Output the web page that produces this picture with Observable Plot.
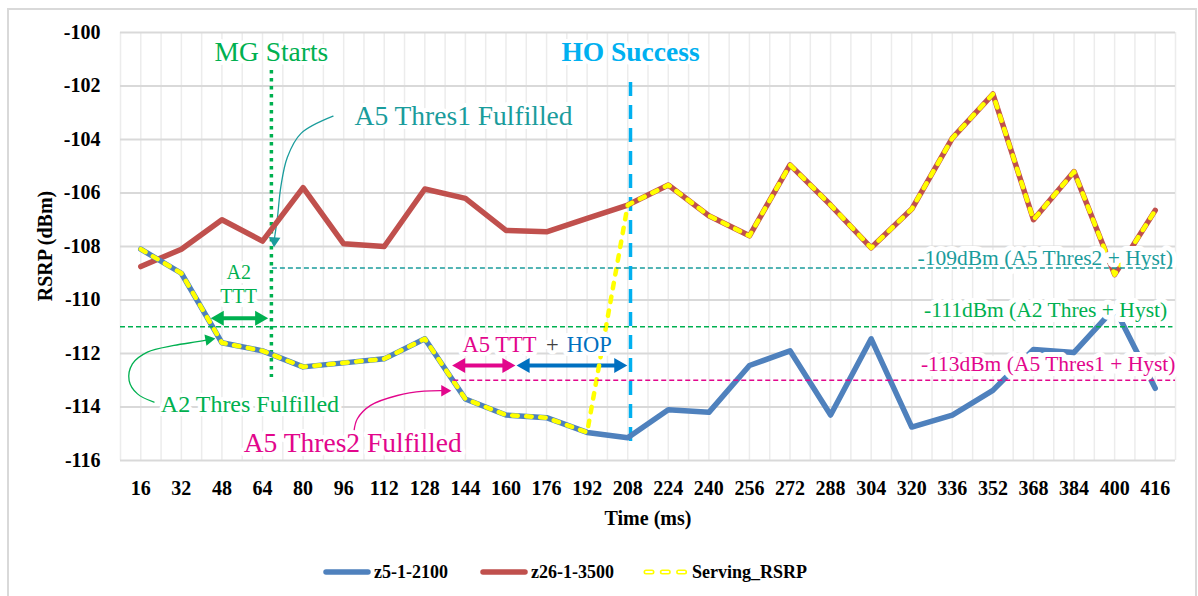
<!DOCTYPE html>
<html><head><meta charset="utf-8">
<script src="https://cdn.jsdelivr.net/npm/d3@7"></script>
<script src="https://cdn.jsdelivr.net/npm/@observablehq/plot@0.6"></script>
<style>
html,body{margin:0;padding:0;background:#fff;}
#wrap{position:relative;width:1198px;height:596px;overflow:hidden;font-family:"Liberation Serif","Times New Roman",serif;}
#frame{position:absolute;left:7px;top:8px;width:1190px;height:620px;box-sizing:border-box;border:2px solid #d9d9d9;}
#chart{position:absolute;left:0;top:0;}
#ytitle{position:absolute;left:45px;top:246px;transform:translate(-50%,-50%) rotate(-90deg);white-space:nowrap;font-weight:bold;font-size:20px;line-height:20px;color:#000;}
#legend{position:absolute;left:0;top:559px;width:1198px;height:26px;}
.item{position:absolute;top:0;height:26px;display:flex;align-items:center;font-weight:bold;font-size:18px;color:#000;}
.item svg{display:block;margin-right:3px;}
</style></head>
<body><div id="wrap"><div id="frame"></div><div id="chart"></div><div id="ytitle"></div><div id="legend"></div></div>
<script>
// ---------- data ----------
const times = [16,32,48,64,80,96,112,128,144,160,176,192,208,224,240,256,272,288,304,320,336,352,368,384,400,416];
const z5_1_2100 = [-108.1,-109.0,-111.6,-111.9,-112.5,-112.35,-112.2,-111.45,-113.7,-114.3,-114.4,-114.95,-115.15,-114.1,-114.2,-112.45,-111.9,-114.3,-111.45,-114.75,-114.3,-113.38,-111.85,-111.96,-110.3,-113.3];
const z26_1_3500 = [-108.75,-108.1,-107.0,-107.8,-105.8,-107.9,-108.0,-105.85,-106.2,-107.4,-107.45,-106.95,-106.45,-105.7,-106.85,-107.6,-104.95,-106.45,-108.05,-106.6,-103.95,-102.3,-107.0,-105.2,-109.05,-106.65];
const servingRSRP = [-108.1,-109.0,-111.6,-111.9,-112.5,-112.35,-112.2,-111.45,-113.7,-114.3,-114.4,-114.95,-106.45,-105.7,-106.85,-107.6,-104.95,-106.45,-108.05,-106.6,-103.95,-102.3,-107.0,-105.2,-109.05,-106.65];
const yTicks = [-116,-114,-112,-110,-108,-106,-104,-102,-100];
const xGrid = [8,16,24,32,40,48,56,64,72,80,88,96,104,112,120,128,136,144,152,160,168,176,184,192,200,208,216,224,232,240,248,256,264,272,280,288,296,304,312,320,328,336,344,352,360,368,376,384,392,400,408,416,424];
const seriesNames = ["z5-1-2100","z26-1-3500","Serving_RSRP"];
const yTitleText = "RSRP (dBm)";
const xTitle = [{text:"Time (ms)", t:216, v:-116}];

// annotations (time ms, dBm)
const annoTexts = [
  {key:"green", t:67.5, v:-101.08, text:"MG Starts", size:27.5, weight:"normal", anchor:"middle"},
  {key:"sky", t:209.1, v:-101.08, text:"HO Success", size:27.5, weight:"bold", anchor:"middle"},
  {key:"teal", t:100.3, v:-103.44, text:"A5 Thres1 Fulfilled", size:27.5, weight:"normal", anchor:"start"},
  {key:"green", t:54.6, v:-109.2, text:"A2", size:20, weight:"normal", anchor:"middle"},
  {key:"green", t:54.6, v:-110.13, text:"TTT", size:20, weight:"normal", anchor:"middle"},
  {key:"green", t:23.9, v:-114.19, text:"A2 Thres Fulfilled", size:24, weight:"normal", anchor:"start"},
  {key:"magenta", t:56.6, v:-115.69, text:"A5 Thres2 Fulfilled", size:27.5, weight:"normal", anchor:"start"},
  {key:"magenta", t:142.9, v:-111.93, text:"A5 TTT", size:22.5, weight:"normal", anchor:"start"},
  {key:"grey", t:178.3, v:-111.93, text:"+", size:22.5, weight:"normal", anchor:"middle"},
  {key:"hop", t:184.0, v:-111.93, text:"HOP", size:22.5, weight:"normal", anchor:"start"}
];
const thresholdLines = [
  {key:"teal", v:-108.8, t1:67.9, t2:423},
  {key:"green", v:-111, t1:8, t2:423},
  {key:"magenta", v:-113, t1:139.4, t2:424}
];
const thresholdLabels = [
  {key:"teal", t:423, v:-108.7, text:"-109dBm (A5 Thres2 + Hyst)"},
  {key:"green", t:420.7, v:-110.64, text:"-111dBm (A2 Thres + Hyst)"},
  {key:"magenta", t:424, v:-112.64, text:"-113dBm (A5 Thres1 + Hyst)"}
];
const mgStart = [{t:67.5, top:-101.42, bottom:-112.9}];
const hoSuccess = [{t:209.1, top:-101.87, bottom:-115.42}];
const curvedArrows = [
  {arrow:"a5t1", key:"teal", t:91.8, v:-103.13},{arrow:"a5t1", key:"teal", t:79.1, v:-103.78},
  {arrow:"a5t1", key:"teal", t:73.8, v:-104.66},{arrow:"a5t1", key:"teal", t:71.2, v:-105.78},
  {arrow:"a5t1", key:"teal", t:69.9, v:-106.9},{arrow:"a5t1", key:"teal", t:68.7, v:-107.7},
  {arrow:"a2", key:"green", t:21.2, v:-113.82},{arrow:"a2", key:"green", t:14.7, v:-113.51},
  {arrow:"a2", key:"green", t:11.4, v:-113.01},{arrow:"a2", key:"green", t:12.7, v:-112.39},
  {arrow:"a2", key:"green", t:18.6, v:-111.95},{arrow:"a2", key:"green", t:29.1, v:-111.7},
  {arrow:"a2", key:"green", t:38.3, v:-111.56},{arrow:"a2", key:"green", t:42.8, v:-111.48},
  {arrow:"a5t2", key:"magenta", t:100.1, v:-114.88},{arrow:"a5t2", key:"magenta", t:101.4, v:-114.44},
  {arrow:"a5t2", key:"magenta", t:106.6, v:-113.94},{arrow:"a5t2", key:"magenta", t:117.2, v:-113.57},
  {arrow:"a5t2", key:"magenta", t:127.7, v:-113.41},{arrow:"a5t2", key:"magenta", t:135.8, v:-113.39}
];
const curvedHeads = [
  {key:"teal", t:68.7, v:-107.78, rot:184},
  {key:"green", t:42.8, v:-111.48, rot:80},
  {key:"magenta", t:135.8, v:-113.39, rot:90}
];
const doubleArrows = [
  {key:"green", t1:43.6, t2:66.2, v:-110.68},
  {key:"magenta", t1:138.8, t2:163.7, v:-112.45},
  {key:"hop", t1:164.2, t2:207.8, v:-112.45}
];

// ---------- styles ----------
const C = {green:"#00b050", teal:"#1a9c9c", magenta:"#e2068c", sky:"#00b0f0", hop:"#0070c0", grey:"#404040",
           red:"#c0504d", blue:"#4f81bd", yellow:"#ffff00"};
const FONT = "Liberation Serif, Times New Roman, serif";
const headOff = 3.4; // ms from tip to triangle centre

const row = (vals) => times.map((t, i) => ({t, v: vals[i]}));
const blueData = row(z5_1_2100), redData = row(z26_1_3500), servData = row(servingRSRP);

const marks = [
  Plot.ruleX(xGrid, {stroke:"#ececec", strokeWidth:1.5}),
  Plot.ruleY(yTicks, {stroke:"#d9d9d9", strokeWidth:1.8}),
  Plot.ruleX(mgStart, {x:"t", y1:"top", y2:"bottom", stroke:C.green, strokeWidth:3.5, strokeDasharray:"3.5,4.5"}),
  Plot.ruleX(hoSuccess, {x:"t", y1:"top", y2:"bottom", stroke:C.sky, strokeWidth:3.5, strokeDasharray:"14,9"}),
  Plot.line(curvedArrows, {x:"t", y:"v", z:"arrow", stroke:d => C[d.key], curve:"catmull-rom", strokeWidth:1.3}),
  Plot.dot(curvedHeads, {x:"t", y:"v", symbol:"triangle", r:4.3, rotate:"rot", fill:d => C[d.key], stroke:null}),
  Plot.link(doubleArrows, {x1:d => d.t1 + headOff, x2:d => d.t2 - headOff, y1:"v", y2:"v", stroke:d => C[d.key], strokeWidth:4}),
  Plot.dot(doubleArrows, {x:d => d.t1 + headOff, y:"v", symbol:"triangle", r:5.6, rotate:-90, fill:d => C[d.key], stroke:null}),
  Plot.dot(doubleArrows, {x:d => d.t2 - headOff, y:"v", symbol:"triangle", r:5.6, rotate:90, fill:d => C[d.key], stroke:null}),
  Plot.line(redData, {x:"t", y:"v", stroke:C.red, strokeWidth:5.5, strokeLinejoin:"round", strokeLinecap:"round"}),
  Plot.line(blueData, {x:"t", y:"v", stroke:C.blue, strokeWidth:5.5, strokeLinejoin:"round", strokeLinecap:"round"}),
  Plot.line(servData, {x:"t", y:"v", stroke:C.yellow, strokeWidth:4.5, strokeDasharray:"5.5,8.5", strokeLinecap:"round", strokeLinejoin:"round"}),
  Plot.line(servData, {x:"t", y:"v", stroke:"white", strokeWidth:1.4, strokeDasharray:"5.5,8.5", strokeLinecap:"round", strokeLinejoin:"round", ariaLabel:"serving-inner"}),
  ...annoTexts.map(a => Plot.text([a], {x:"t", y:"v", text:"text", fill:C[a.key], fontSize:a.size, fontWeight:a.weight,
      textAnchor:a.anchor, lineAnchor:"bottom", stroke:"white", strokeWidth:8, paintOrder:"stroke", fontFamily:FONT})),
  ...thresholdLabels.map(a => Plot.text([a], {x:"t", y:"v", text:"text", fill:C[a.key], fontSize:21.5, fontWeight:"normal",
      textAnchor:"end", lineAnchor:"bottom", stroke:"white", strokeWidth:10, paintOrder:"stroke", fontFamily:FONT})),
  Plot.ruleY(thresholdLines, {y:"v", x1:"t1", x2:"t2", stroke:d => C[d.key], strokeWidth:1.5, strokeDasharray:"5,3"}),
  Plot.text(xTitle, {x:"t", y:"v", text:"text", dy:64, textAnchor:"middle", lineAnchor:"bottom", fontSize:20, fontWeight:"bold", fill:"#000", fontFamily:FONT})
];

const chart = Plot.plot({
  width:1198, height:545,
  marginLeft:120, marginRight:23, marginTop:32, marginBottom:85,
  style:{fontFamily:FONT, fontSize:"20px", fontWeight:"bold", color:"#000", background:"transparent", overflow:"visible"},
  x:{domain:[8,424], ticks:times, tickSize:0, tickPadding:20, tickFormat:d => String(d), label:null},
  y:{domain:[-116,-100], ticks:yTicks, tickSize:0, tickPadding:20, tickFormat:d => String(d), label:null},
  marks
});

// inner colour of the hollow serving dashes follows the line beneath it
const xs = chart.scale("x");
const W = 1198, xa = xs.apply(192) / W, xb = xs.apply(208) / W;
const grad = d3.select(chart).insert("defs", ":first-child").append("linearGradient")
  .attr("id", "servInner").attr("gradientUnits", "userSpaceOnUse")
  .attr("x1", 0).attr("y1", 0).attr("x2", W).attr("y2", 0);
[[0, C.blue],[xa, C.blue],[xa, "#ffffff"],[xb, "#ffffff"],[xb, C.red],[1, C.red]].forEach(([o, c]) =>
  grad.append("stop").attr("offset", o).attr("stop-color", c));
d3.select(chart).selectAll('g[aria-label="serving-inner"]').attr("stroke", "url(#servInner)");
d3.select(chart).selectAll('g[aria-label="serving-inner"] path').attr("stroke", null);
d3.select(chart).selectAll('g[aria-label="x-axis tick label"], g[aria-label="y-axis tick label"]')
  .attr("font-family", FONT).attr("font-weight", "bold");

document.getElementById("chart").appendChild(chart);
document.getElementById("ytitle").textContent = yTitleText;

// ---------- legend ----------
const legend = document.getElementById("legend");
const legendItems = [
  {name: seriesNames[0], left: 323, svg: `<svg width="48" height="10"><line x1="3" y1="5" x2="45" y2="5" stroke="${C.blue}" stroke-width="5.5" stroke-linecap="round"/></svg>`},
  {name: seriesNames[1], left: 480, svg: `<svg width="48" height="10"><line x1="3" y1="5" x2="45" y2="5" stroke="${C.red}" stroke-width="5.5" stroke-linecap="round"/></svg>`},
  {name: seriesNames[2], left: 641, svg: `<svg width="48" height="10"><line x1="5" y1="5" x2="44" y2="5" stroke="${C.yellow}" stroke-width="5" stroke-dasharray="6,10.3" stroke-linecap="round"/><line x1="5" y1="5" x2="44" y2="5" stroke="#fff" stroke-width="1.8" stroke-dasharray="6,10.3" stroke-linecap="round"/></svg>`}
];
legendItems.forEach(it => {
  const d = document.createElement("div");
  d.className = "item";
  d.style.left = it.left + "px";
  d.innerHTML = it.svg + `<span>${it.name}</span>`;
  legend.appendChild(d);
});
</script>
</body></html>
